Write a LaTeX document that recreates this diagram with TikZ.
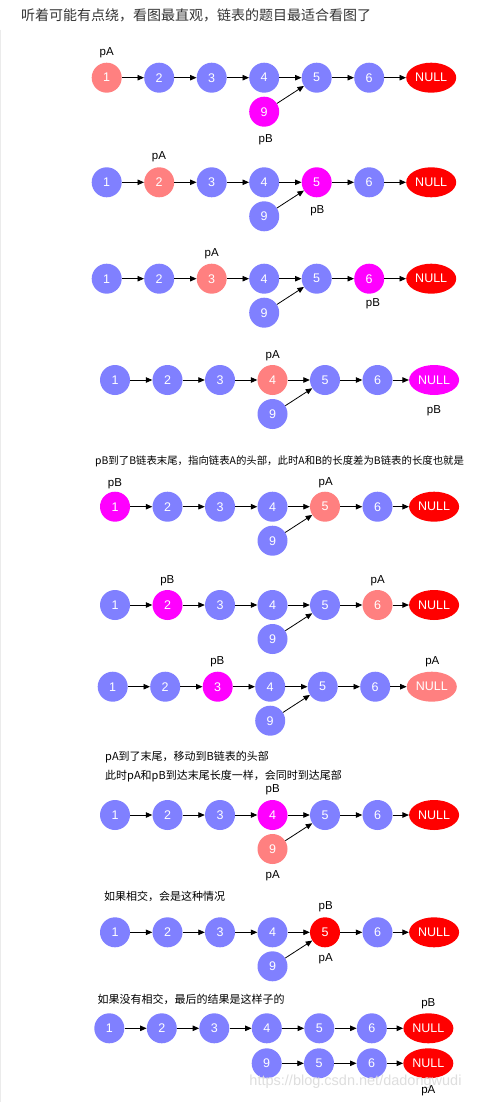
\documentclass[tikz,border=0pt]{standalone}
\usepackage{fontspec}
\setmainfont{Liberation Sans}
\newfontfamily\cjk{Noto Sans CJK SC}
\usetikzlibrary{shapes.geometric,arrows.meta}
\definecolor{blu}{HTML}{8080FF}
\definecolor{sal}{HTML}{FF8080}
\definecolor{mag}{HTML}{FF00FF}
\definecolor{rd}{HTML}{FF0000}
\definecolor{ttl}{HTML}{333333}
\tikzset{
  nd/.style={circle, minimum size=30pt, inner sep=0pt, text=white, font=\fontsize{12.5}{14}\selectfont},
  nul/.style={ellipse, minimum width=50pt, minimum height=30pt, inner sep=0pt, text=white, font=\fontsize{12.5}{14}\selectfont},
  arr/.style={-{Triangle[length=6.5pt,width=5.5pt]}, line width=0.8pt, black},
  lbl/.style={inner sep=0pt, font=\fontsize{11.5}{13}\selectfont},
  txt/.style={anchor=west, inner sep=0pt, font=\cjk\fontsize{11}{13}\selectfont},
}
% #1 prefix, #2 x of node 1, #3 y, #4 offset of NULL from node 6, #5 colours of 1..6,NULL
\newcommand\chainrow[5]{%
  \foreach \c [count=\i] in {#5} {
    \ifnum\i<7 \node[nd,fill=\c] (#1\i) at ({#2+(\i-1)*52.5},#3) {\i};\fi
    \ifnum\i=7 \node[nul,fill=\c] (#1N) at ({#2+5*52.5+#4},#3) {NULL};\fi
  }
  \foreach \a/\b in {1/2,2/3,3/4,4/5,5/6,6/N} \draw[arr] (#1\a) -- (#1\b);
}
% #1 prefix, #2 colour of node 9
\newcommand\ninenode[2]{%
  \node[nd,fill=#2] (#1nine) at ([yshift=-34pt]#14) {9};
  \draw[arr] (#1nine) -- (#15);
}
\begin{document}
\begin{tikzpicture}[x=1pt,y=-1pt]
\useasboundingbox (0,0) rectangle (481,1102);
\fill[white] (0,0) rectangle (481,1102);
\draw[black!8,line width=1pt] (0.5,30) -- (0.5,1102);

\node[anchor=west,inner sep=0pt,text=ttl,font=\cjk\fontsize{14}{16}\selectfont] (title) at (21,15) {听着可能有点绕，看图最直观，链表的题目最适合看图了};

% row 1
\chainrow{a}{106.7}{77.7}{62}{sal,blu,blu,blu,blu,blu,rd}
\ninenode{a}{mag}
\node[lbl] (apA) at (106.7,52.7) {pA};
\node[lbl] (apB) at (265.7,139.3) {pB};

% row 2
\chainrow{b}{106.7}{182.3}{62}{blu,sal,blu,blu,mag,blu,rd}
\ninenode{b}{blu}
\node[lbl] (bpA) at (159,156.7) {pA};
\node[lbl] (bpB) at (317.3,210.7) {pB};

% row 3
\chainrow{c}{106.7}{278.7}{62}{blu,blu,sal,blu,blu,mag,rd}
\ninenode{c}{blu}
\node[lbl] (cpA) at (211.7,254) {pA};
\node[lbl] (cpB) at (373,304) {pB};

% row 4
\chainrow{d}{115}{380}{56.6}{blu,blu,blu,sal,blu,blu,mag}
\ninenode{d}{blu}
\node[lbl] (dpA) at (272.7,355.7) {pA};
\node[lbl] (dpB) at (434,410.7) {pB};

\node[txt,font=\cjk\fontsize{10.4}{12}\selectfont] (t1) at (95,461) {pB到了B链表末尾，指向链表A的头部，此时A和B的长度差为B链表的长度也就是};

% row 5
\chainrow{e}{115}{506.7}{56.6}{mag,blu,blu,blu,sal,blu,rd}
\ninenode{e}{blu}
\node[lbl] (epB) at (115,483.3) {pB};
\node[lbl] (epA) at (325.7,482.3) {pA};

% row 6
\chainrow{f}{115}{605}{56.6}{blu,mag,blu,blu,blu,sal,rd}
\ninenode{f}{blu}
\node[lbl] (fpB) at (167.3,581) {pB};
\node[lbl] (fpA) at (377.7,581) {pA};

% row 7
\chainrow{g}{112.7}{686.7}{56.6}{blu,blu,mag,blu,blu,blu,sal}
\ninenode{g}{blu}
\node[lbl] (gpB) at (217.3,661.7) {pB};
\node[lbl] (gpA) at (432.3,661.7) {pA};

\node[txt] (t2) at (105,756.7) {pA到了末尾，移动到B链表的头部};
\node[txt] (t3) at (105,776) {此时pA和pB到达末尾长度一样，会同时到达尾部};

% row 8
\chainrow{h}{115}{815}{56.6}{blu,blu,blu,mag,blu,blu,rd}
\ninenode{h}{sal}
\node[lbl] (hpB) at (272.7,790) {pB};
\node[lbl] (hpA) at (272.7,876) {pA};

\node[txt] (t4) at (104,896.7) {如果相交，会是这种情况};

% row 9
\chainrow{i}{115}{932.3}{56.6}{blu,blu,blu,blu,rd,blu,rd}
\ninenode{i}{blu}
\node[lbl] (ipB) at (325.7,906.7) {pB};
\node[lbl] (ipA) at (325.7,959) {pA};

\node[txt] (t5) at (97.3,999) {如果没有相交，最后的结果是这样子的};

% row 10
\chainrow{j}{109.3}{1028.3}{56.6}{blu,blu,blu,blu,blu,blu,rd}
\node[nd,fill=blu] (k9) at (266.7,1063.3) {9};
\node[nd,fill=blu] (k5) at (319,1063.3) {5};
\node[nd,fill=blu] (k6) at (371.7,1063.3) {6};
\node[nul,fill=rd] (kN) at (428.3,1063.3) {NULL};
\foreach \a/\b in {9/5,5/6,6/N} \draw[arr] (k\a) -- (k\b);
\node[inner sep=0pt,text=black!13,font=\fontsize{14.5}{16}\selectfont] (wm) at (355.5,1082) {https://blog.csdn.net/dadongwudi};
\node[lbl] (jpB) at (428.3,1003.3) {pB};
\node[lbl] (kpA) at (428.3,1091) {pA};
\end{tikzpicture}
\end{document}
